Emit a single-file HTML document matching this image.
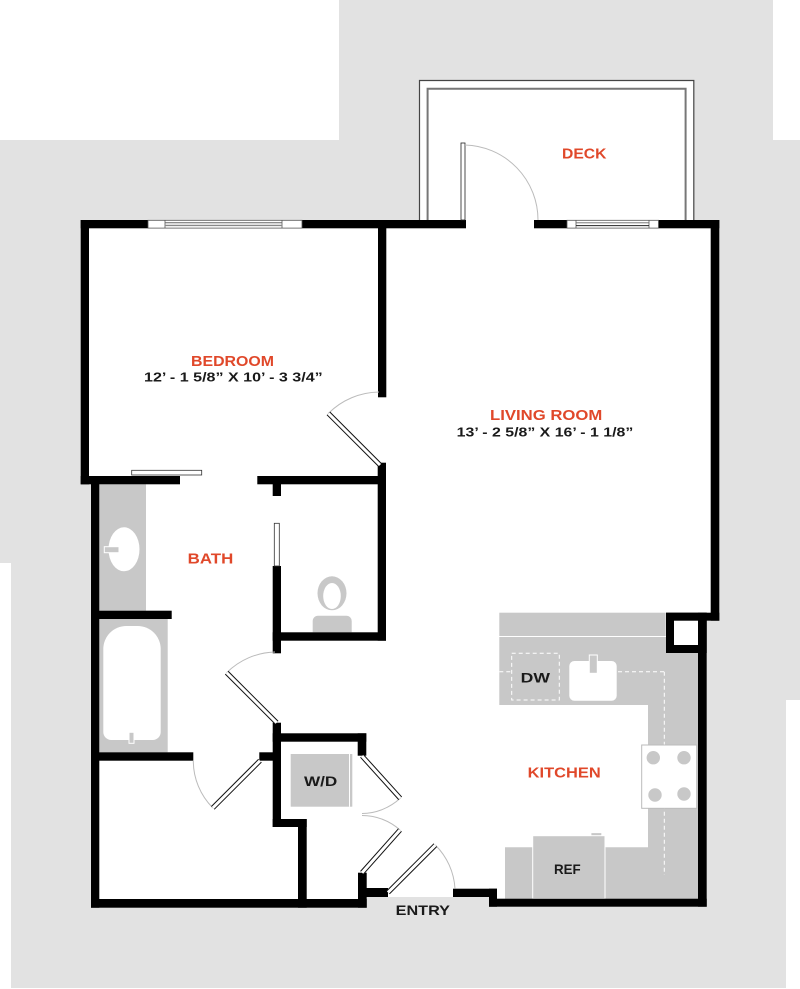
<!DOCTYPE html>
<html>
<head>
<meta charset="utf-8">
<style>
html,body{margin:0;padding:0;background:#fff;}
svg{display:block;}
text{font-family:"Liberation Sans","DejaVu Sans",sans-serif;}
</style>
</head>
<body>
<svg width="800" height="989" viewBox="0 0 800 989" xmlns="http://www.w3.org/2000/svg">
  <!-- background grey site -->
  <polygon points="0,140 339,140 339,0 773,0 773,140 800,140 800,700 786,700 786,988 11,988 11,563 0,563" fill="#e2e2e2"/>

  <!-- white interiors -->
  <polygon points="81,220 719,220 719,621 706.7,621 706.7,899 91,899 91,484 81,484" fill="#fff"/>
  <rect x="419" y="80" width="275" height="140" fill="#fff"/>
  <rect x="366.7" y="897" width="122.3" height="11" fill="#e2e2e2"/>

  <!-- deck outlines -->
  <path d="M419.5,220 V80.5 H693.8 V220" fill="none" stroke="#444" stroke-width="1.2"/>
  <path d="M427.6,220 V88.7 H685.6 V220" fill="none" stroke="#777" stroke-width="2"/>

  <!-- kitchen counters -->
  <rect x="499.3" y="612.7" width="166.4" height="23.3" fill="#c8c8c8"/>
  <polygon points="499.3,637 698,637 698,898.7 505,898.7 505,847.3 648,847.3 648,705 499.3,705" fill="#c8c8c8"/>
  <g fill="none" stroke="#fff" stroke-width="1" stroke-dasharray="4,3">
    <rect x="511.7" y="653.3" width="47.6" height="46.7"/>
    <line x1="499.3" y1="671.7" x2="511.7" y2="671.7"/>
    <line x1="618" y1="671.7" x2="664.3" y2="671.7"/>
    <line x1="664.3" y1="671.7" x2="664.3" y2="875"/>
  </g>
  <rect x="569.3" y="661" width="47.4" height="39.7" rx="5" fill="#fff"/>
  <rect x="589.3" y="655" width="8" height="18.3" fill="#c8c8c8" stroke="#fff" stroke-width="1"/>
  <rect x="641.7" y="745" width="55" height="63.3" fill="#fff" stroke="#bbb" stroke-width="1"/>
  <g fill="#c8c8c8">
    <circle cx="653.3" cy="757.7" r="6.7"/>
    <circle cx="684" cy="757.7" r="6.7"/>
    <circle cx="655" cy="795" r="6.7"/>
    <circle cx="684" cy="794" r="6.7"/>
  </g>
  <rect x="591" y="832.7" width="10.7" height="3.5" fill="#c8c8c8" stroke="#fff" stroke-width="0.8"/>
  <rect x="532.7" y="835.7" width="72.3" height="63" fill="#c8c8c8" stroke="#fff" stroke-width="1"/>

  <!-- bath fixtures -->
  <rect x="99.3" y="484.3" width="46.7" height="126.4" fill="#c8c8c8"/>
  <ellipse cx="124" cy="549.3" rx="15.5" ry="22" fill="#fff"/>
  <rect x="104.3" y="546.7" width="14.7" height="6" fill="#c8c8c8" stroke="#fff" stroke-width="1"/>
  <rect x="99.3" y="619" width="68.4" height="133.3" fill="#c8c8c8"/>
  <path d="M103.3,649 A23,23 0 0 1 126.3,626 H137.7 A23,23 0 0 1 160.7,649 V732 A8,8 0 0 1 152.7,740 H111.3 A8,8 0 0 1 103.3,732 Z" fill="#fff"/>
  <rect x="129" y="732.3" width="5" height="11" fill="#c8c8c8" stroke="#fff" stroke-width="1"/>
  <ellipse cx="332" cy="593.3" rx="14.5" ry="17" fill="#c8c8c8"/>
  <ellipse cx="332" cy="596" rx="8.8" ry="13" fill="#fff"/>
  <path d="M312.7,632.3 V621 A5.3,5.3 0 0 1 318,615.7 H346.4 A5.3,5.3 0 0 1 351.7,621 V632.3 Z" fill="#c8c8c8"/>

  <!-- W/D -->
  <rect x="290.7" y="754" width="61.6" height="52.7" fill="#c8c8c8"/>
  <line x1="349.5" y1="754" x2="349.5" y2="806.7" stroke="#fff" stroke-width="1"/>

  <!-- walls -->
  <g fill="#000">
    <rect x="80.7" y="220" width="385.3" height="8.3"/>
    <rect x="534" y="220" width="185.3" height="8.3"/>
    <rect x="80.7" y="220" width="8.3" height="264.3"/>
    <rect x="80.7" y="476" width="99.3" height="8.3"/>
    <rect x="91" y="476" width="8.3" height="431.7"/>
    <rect x="378" y="220" width="8.3" height="177.3"/>
    <rect x="377.7" y="462.7" width="8.3" height="178"/>
    <rect x="257.3" y="476" width="128.7" height="8.3"/>
    <rect x="272.7" y="484" width="8.3" height="12"/>
    <rect x="272.7" y="632.3" width="113.3" height="8.4"/>
    <rect x="272.7" y="566" width="8.3" height="87.3"/>
    <rect x="91" y="610.7" width="80.7" height="8.3"/>
    <rect x="91" y="752.3" width="102.3" height="8.4"/>
    <rect x="259.3" y="752.3" width="21.7" height="8.4"/>
    <rect x="272.7" y="722.7" width="8.3" height="104.3"/>
    <rect x="272.7" y="819" width="34" height="8"/>
    <rect x="298" y="819" width="8.7" height="88.7"/>
    <rect x="272.7" y="733.3" width="93.6" height="8.4"/>
    <rect x="357.7" y="733.3" width="8.6" height="22.4"/>
    <rect x="358" y="872.7" width="8.7" height="35"/>
    <rect x="358" y="888" width="30" height="9"/>
    <rect x="91" y="899" width="275.7" height="8.7"/>
    <rect x="453" y="888.7" width="44" height="8.3"/>
    <rect x="489" y="888.7" width="8" height="18"/>
    <rect x="489" y="898.7" width="217.7" height="8"/>
    <rect x="698" y="612.7" width="8.7" height="294"/>
    <rect x="666" y="612.7" width="40.7" height="40.3"/>
    <rect x="710.7" y="220" width="8.6" height="400.7"/>
    <rect x="666" y="612.7" width="53.3" height="8"/>
  </g>
  <rect x="674" y="620.7" width="24" height="24.3" fill="#fff"/>

  <!-- windows -->
  <rect x="148" y="220.3" width="154" height="7.8" fill="#fff" stroke="#555" stroke-width="0.8"/>
  <line x1="165" y1="220.3" x2="165" y2="228.1" stroke="#555" stroke-width="0.8"/>
  <line x1="282" y1="220.3" x2="282" y2="228.1" stroke="#555" stroke-width="0.8"/>
  <line x1="165" y1="222.7" x2="282" y2="222.7" stroke="#666" stroke-width="1"/>
  <line x1="165" y1="225.4" x2="282" y2="225.4" stroke="#888" stroke-width="1.4"/>
  <rect x="567" y="220.3" width="91.5" height="7.8" fill="#fff" stroke="#555" stroke-width="0.8"/>
  <line x1="576" y1="220.3" x2="576" y2="228.1" stroke="#555" stroke-width="0.8"/>
  <line x1="649" y1="220.3" x2="649" y2="228.1" stroke="#555" stroke-width="0.8"/>
  <line x1="576" y1="222.8" x2="649" y2="222.8" stroke="#666" stroke-width="0.8"/>
  <line x1="576" y1="225.6" x2="649" y2="225.6" stroke="#222" stroke-width="1"/>

  <!-- sliding / pocket doors -->
  <rect x="131.7" y="470.3" width="70" height="4.7" fill="#fff" stroke="#333" stroke-width="0.8"/>
  <rect x="274.3" y="523.3" width="5" height="42.7" fill="#fff" stroke="#333" stroke-width="0.8"/>
  <rect x="461" y="143" width="4" height="77" fill="#fff" stroke="#222" stroke-width="0.8"/>

  <!-- door swing arcs -->
  <g fill="none" stroke="#bbb" stroke-width="1">
    <path d="M465,145 A75,75 0 0 1 538,220"/>
    <path d="M328.4,413.4 A73,73 0 0 1 379,392"/>
    <path d="M226.7,672.7 A70.7,70.7 0 0 1 275,652"/>
    <path d="M193.3,760.7 A66.7,66.7 0 0 0 212.8,807.9"/>
    <path d="M435.4,845.1 A67,67 0 0 1 455,888.7"/>
    <path d="M400.2,798.3 A57,57 0 0 1 362,813.5"/>
    <path d="M400,830 A57.2,57.2 0 0 0 362,815.5"/>
  </g>

  <!-- door leaves -->
  <g stroke-linecap="butt">
    <g stroke="#111" stroke-width="5">
      <line x1="380" y1="465" x2="328.4" y2="413.4"/>
      <line x1="276.7" y1="722.7" x2="226.7" y2="672.7"/>
      <line x1="260" y1="760.7" x2="212.8" y2="807.9"/>
      <line x1="388" y1="892.5" x2="435.4" y2="845.1"/>
      <line x1="362" y1="756" x2="400.2" y2="798.3"/>
      <line x1="362" y1="872.7" x2="400" y2="830"/>
    </g>
    <g stroke="#fff" stroke-width="3">
      <line x1="380" y1="465" x2="328.4" y2="413.4"/>
      <line x1="276.7" y1="722.7" x2="226.7" y2="672.7"/>
      <line x1="260" y1="760.7" x2="212.8" y2="807.9"/>
      <line x1="388" y1="892.5" x2="435.4" y2="845.1"/>
      <line x1="362" y1="756" x2="400.2" y2="798.3"/>
      <line x1="362" y1="872.7" x2="400" y2="830"/>
    </g>
  </g>

  <!-- labels -->
  <g fill="#e0482a" font-size="14.5" font-weight="bold">
    <text x="562" y="158.3" textLength="44.4" lengthAdjust="spacingAndGlyphs">DECK</text>
    <text x="191" y="366" textLength="83" lengthAdjust="spacingAndGlyphs">BEDROOM</text>
    <text x="490" y="420" textLength="112.3" lengthAdjust="spacingAndGlyphs">LIVING ROOM</text>
    <text x="187.7" y="563.3" textLength="45.6" lengthAdjust="spacingAndGlyphs">BATH</text>
    <text x="527.7" y="777.3" textLength="73" lengthAdjust="spacingAndGlyphs">KITCHEN</text>
  </g>
  <g fill="#1a1a1a" font-weight="bold" font-size="13">
    <text x="144" y="381.7" textLength="178.7" lengthAdjust="spacingAndGlyphs">12’ - 1 5/8” X 10’ - 3 3/4”</text>
    <text x="456.7" y="436.7" textLength="176.6" lengthAdjust="spacingAndGlyphs">13’ - 2 5/8” X 16’ - 1 1/8”</text>
    <text x="520.7" y="682.3" font-size="14" textLength="29.3" lengthAdjust="spacingAndGlyphs">DW</text>
    <text x="554" y="874" font-size="14" textLength="26.7" lengthAdjust="spacingAndGlyphs">REF</text>
    <text x="304" y="786" font-size="14" textLength="33.3" lengthAdjust="spacingAndGlyphs">W/D</text>
    <text x="395.7" y="915" font-size="14" textLength="54.3" lengthAdjust="spacingAndGlyphs">ENTRY</text>
  </g>
</svg>
</body>
</html>
